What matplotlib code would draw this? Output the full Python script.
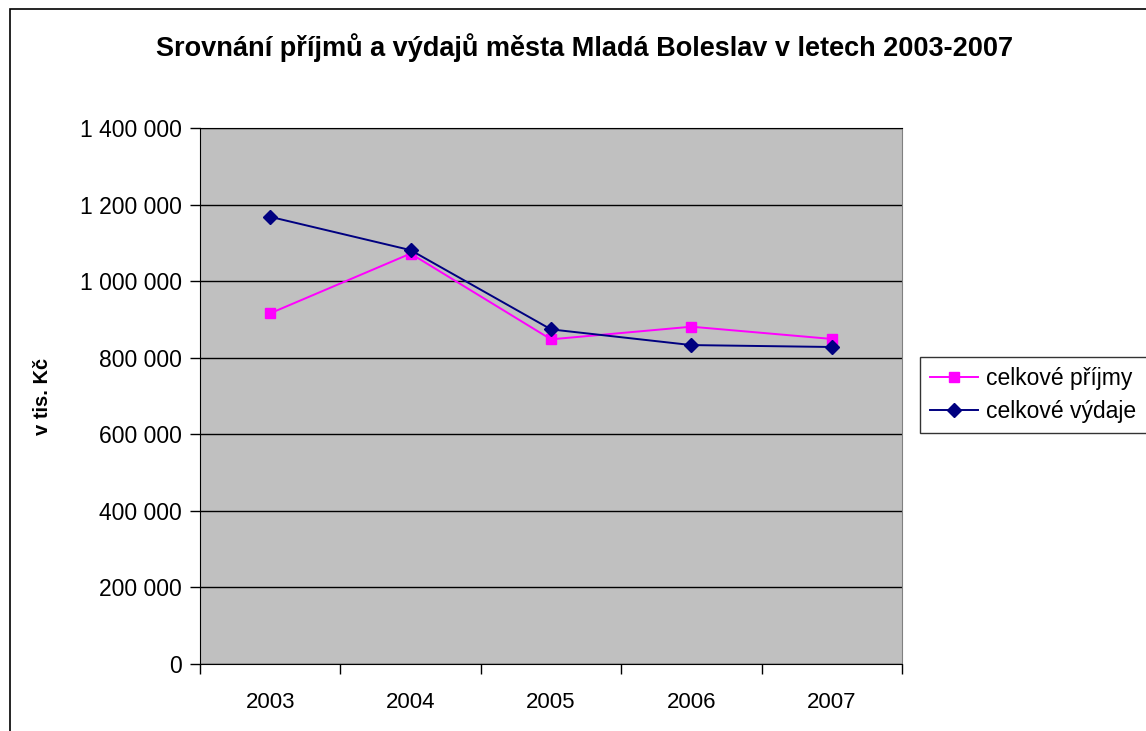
import matplotlib.pyplot as plt
from matplotlib.patches import Rectangle
from matplotlib.ticker import FuncFormatter

plt.rcParams['font.family'] = ['Liberation Sans', 'DejaVu Sans']

# data (v tis. Kč)
years = ['2003', '2004', '2005', '2006', '2007']
prijmy = [916000, 1072000, 848000, 881000, 849000]
vydaje = [1168000, 1081000, 874000, 833000, 828000]

fig = plt.figure(figsize=(11.46, 7.31), dpi=100)
ax = fig.add_axes([200/1146, 1-664/731, 702/1146, 536/731])
ax.set_facecolor('#C0C0C0')

x = range(len(years))
ax.plot(x, prijmy, color='#FF00FF', lw=1.4, marker='s', ms=7.5, label='celkové příjmy')
ax.plot(x, vydaje, color='#000080', lw=1.4, marker='D', ms=7, label='celkové výdaje')

ax.set_xlim(-0.5, len(years) - 0.5)
ax.set_ylim(0, 1400000)
ax.set_yticks(range(0, 1400001, 200000))
ax.yaxis.set_major_formatter(FuncFormatter(lambda v, p: f'{int(v):,}'.replace(',', ' ')))
ax.grid(axis='y', color='black', lw=1)
ax.set_axisbelow(True)

ax.set_xticks(list(x))
ax.set_xticklabels(years)
ax.set_xticks([i - 0.5 for i in range(len(years) + 1)], minor=True)
ax.tick_params(axis='x', which='major', length=0, pad=20, labelsize=16)
ax.tick_params(axis='x', which='minor', length=7, width=1)
ax.tick_params(axis='y', length=7, width=1, labelsize=16.5, pad=6)

for s in ['left', 'bottom', 'top']:
    ax.spines[s].set_color('black')
ax.spines['right'].set_color('#808080')

ax.set_ylabel('v tis. Kč', fontsize=14.5, fontweight='bold', labelpad=20)
fig.text(585/1146, 1-48/731, 'Srovnání příjmů a výdajů města Mladá Boleslav v letech 2003-2007',
         ha='center', va='center', fontsize=19.5, fontweight='bold')

leg = ax.legend(loc='center left', bbox_to_anchor=(920/1146, 1-395/731),
                bbox_transform=fig.transFigure, fontsize=16.5, frameon=True,
                fancybox=False, edgecolor='black', handlelength=2.1,
                borderpad=0.45, labelspacing=0.45, handletextpad=0.35,
                borderaxespad=0)
leg.get_frame().set_linewidth(1)

# chart area border
fig.patches.append(Rectangle((10/1146, -0.1), 1.2, 1.1 - 9/731, transform=fig.transFigure,
                             fill=False, edgecolor='black', lw=1.2))

fig.savefig('out.png', dpi=100)
